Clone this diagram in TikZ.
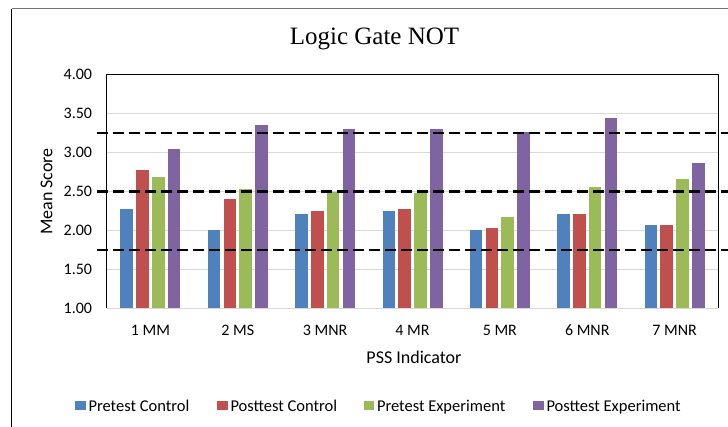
\documentclass[tikz,border=0pt]{standalone}
\usepackage{fontspec}
\setmainfont{Liberation Serif}
\newfontfamily\calfont{Carlito}
\definecolor{cA}{HTML}{4F81BD}
\definecolor{cB}{HTML}{C0504D}
\definecolor{cC}{HTML}{9BBB59}
\definecolor{cD}{HTML}{8064A2}
\definecolor{gridc}{HTML}{D9D9D9}
\tikzset{
  ticklbl/.style={font=\calfont\fontsize{16}{18}\selectfont, inner sep=0pt},
  axtitle/.style={font=\calfont\fontsize{18}{21}\selectfont, inner sep=0pt},
  leglbl/.style={font=\calfont\fontsize{16.5}{19}\selectfont, inner sep=0pt, anchor=base west},
  legsq/.style={minimum width=10.5pt, minimum height=9pt, inner sep=0pt, anchor=south west},
  gridline/.style={gridc, line width=1pt},
  refline/.style={black, line width=2.6pt, dash pattern=on 10.5pt off 5.5pt},
}
\begin{document}
\begin{tikzpicture}[x=1pt,y=-1pt]
\useasboundingbox (0,0) rectangle (728,427);
\fill[white] (0,0) rectangle (728,427);
% outer chart frame
\draw[black!55, line width=1pt] (11.5,9) -- (728,9);
\draw[black, line width=1.6pt] (11.5,9) -- (11.5,427);
% title
\node[font=\fontsize{25}{30}\selectfont, anchor=base, inner sep=0pt] (title) at (374.5,45) {Logic Gate NOT};
% grid lines
\foreach \v in {1.5,2.0,2.5,3.0,3.5}
  \draw[gridline] (106.7,{308.3-(\v-1)*77.87}) -- (718.3,{308.3-(\v-1)*77.87});
% y tick labels
\foreach \v/\t [count=\k] in {1/1.00,1.5/1.50,2/2.00,2.5/2.50,3/3.00,3.5/3.50,4/4.00}
  \node[ticklbl, anchor=east] (yt\k) at (92.3,{308.3-(\v-1)*77.87}) {\t};
% bars
\foreach \a/\b/\c/\d/\lab [count=\i from 0] in {
  2.28/2.78/2.69/3.04/1 MM,
  2.00/2.40/2.53/3.35/2 MS,
  2.21/2.25/2.49/3.30/3 MNR,
  2.25/2.28/2.48/3.30/4 MR,
  2.00/2.03/2.17/3.26/5 MR,
  2.21/2.21/2.56/3.44/6 MNR,
  2.07/2.07/2.66/2.87/7 MNR}{
  \pgfmathsetmacro\cx{106.7+87.37*(\i+0.5)}
  \fill[cA] ({\cx-30},308.3) rectangle ({\cx-17.4},{308.3-(\a-1)*77.87});
  \fill[cB] ({\cx-14.2},308.3) rectangle ({\cx-1.6},{308.3-(\b-1)*77.87});
  \fill[cC] ({\cx+1.6},308.3) rectangle ({\cx+14.2},{308.3-(\c-1)*77.87});
  \fill[cD] ({\cx+17.4},308.3) rectangle ({\cx+30},{308.3-(\d-1)*77.87});
  \node[ticklbl, anchor=base] (xt\i) at (\cx,335.7) {\lab};
}
% plot area frame
\draw[gridc, line width=1.2pt] (106.7,308.3) -- (718.3,308.3);
\draw[black, line width=1.5pt] (106.7,308.3) -- (106.7,74.7) -- (718.3,74.7) -- (718.3,308.3);
% reference dashed lines
\foreach \v [count=\k] in {3.25,2.5,1.75}{
  \coordinate (rs\k) at (97,{308.3-(\v-1)*77.87});
  \coordinate (re\k) at (728,{308.3-(\v-1)*77.87});
  \draw[refline] (rs\k) -- (re\k);
}
% axis titles
\node[axtitle, rotate=90, anchor=base] (ytitle) at (52.3,191.5) {Mean Score};
\node[axtitle, anchor=base] (xtitle) at (414,363.3) {PSS Indicator};
% legend
\node[legsq, fill=cA] (lsA) at (75,410.5) {};
\node[leglbl] (llA) at (88.3,411) {Pretest Control};
\node[legsq, fill=cB] (lsB) at (217,410.5) {};
\node[leglbl] (llB) at (230.3,411) {Posttest Control};
\node[legsq, fill=cC] (lsC) at (363.5,410.5) {};
\node[leglbl] (llC) at (376.8,411) {Pretest Experiment};
\node[legsq, fill=cD] (lsD) at (533,410.5) {};
\node[leglbl] (llD) at (546.3,411) {Posttest Experiment};
\end{tikzpicture}
\end{document}
